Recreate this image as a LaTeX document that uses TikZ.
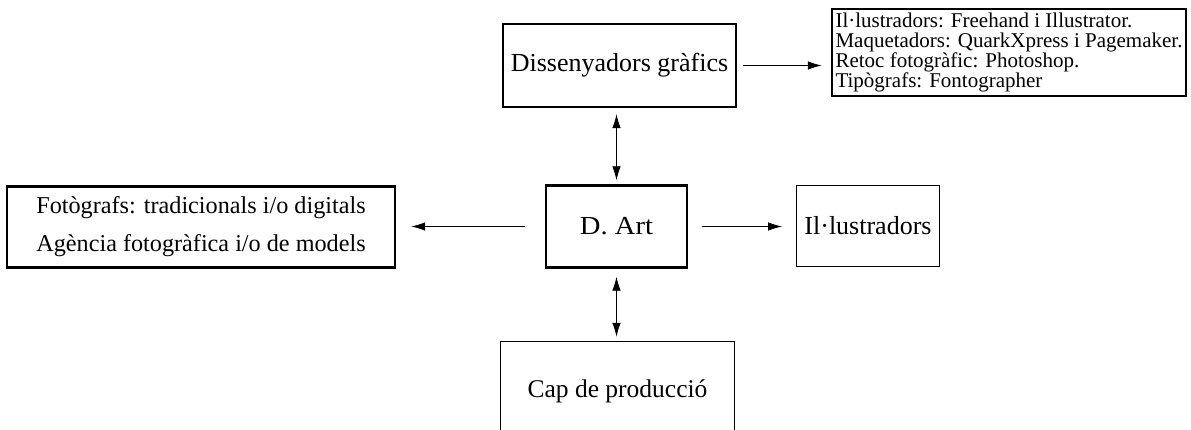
\documentclass[tikz,border=0pt]{standalone}
\usepackage{fontspec}
\setmainfont{Liberation Serif}
\newfontfamily\wideserif[FakeStretch=1.1]{Liberation Serif}
\usetikzlibrary{arrows.meta}
\begin{document}
\begin{tikzpicture}[x=1pt,y=-1pt,
  thickbox/.style={draw, line width=2.4pt, inner sep=2pt, align=center},
  thinbox/.style={draw, line width=0.9pt, inner sep=2pt, align=center},
  arr/.style={line width=0.8pt, -{Latex[length=14pt,width=8.5pt]}},
  darr/.style={line width=0.8pt, {Latex[length=14pt,width=8.5pt]}-{Latex[length=14pt,width=8.5pt]}}]
\useasboundingbox (0,0) rectangle (1191,430);
\node[thickbox, minimum width=233pt, minimum height=83pt, font=\fontsize{26}{38}\selectfont] (dis) at (619.5,65.5) {Dissenyadors gràfics};
\node[thickbox, minimum width=354pt, minimum height=87pt, align=left, font=\fontsize{21}{20}\selectfont] (soft) at (1009,52.5)
  {Il·lustradors: Freehand i Illustrator.\\Maquetadors: QuarkXpress i Pagemaker.\\Retoc fotogràfic: Photoshop.\\Tipògrafs: Fontographer};
\node[thickbox, minimum width=141pt, minimum height=82pt, font=\wideserif\fontsize{26}{38}\selectfont] (art) at (616.5,226.5) {D. Art};
\node[thinbox, minimum width=143pt, minimum height=81pt, font=\fontsize{26}{38}\selectfont] (ill) at (868,225.5) {Il·lustradors};
\node[thickbox, minimum width=388pt, minimum height=81pt, font=\fontsize{24.2}{38}\selectfont] (fot) at (201,227) {Fotògrafs: tradicionals i/o digitals\\Agència fotogràfica i/o de models};
\node[minimum width=233pt, minimum height=88pt, inner sep=0pt] (cap) at (617.5,386) {};
\node[font=\fontsize{25.5}{38}\selectfont] (caplabel) at (617.5,391) {Cap de producció};
\draw[line width=0.9pt] (cap.south west) -- (cap.north west) -- (cap.north east) -- (cap.south east);
\draw[arr, shorten <=6pt, shorten >=9pt] (dis.east) -- (dis.east -| soft.west);
\draw[arr, shorten <=14pt, shorten >=14pt] (art.east) -- (art.east -| ill.west);
\draw[arr, shorten <=20pt, shorten >=15pt] (art.west) -- (art.west -| fot.east);
\draw[darr, shorten <=6pt, shorten >=4pt] (dis.south -| art.north) -- (art.north);
\draw[darr, shorten <=8pt, shorten >=5pt] (art.south) -- (art.south |- cap.north);
\end{tikzpicture}
\end{document}
